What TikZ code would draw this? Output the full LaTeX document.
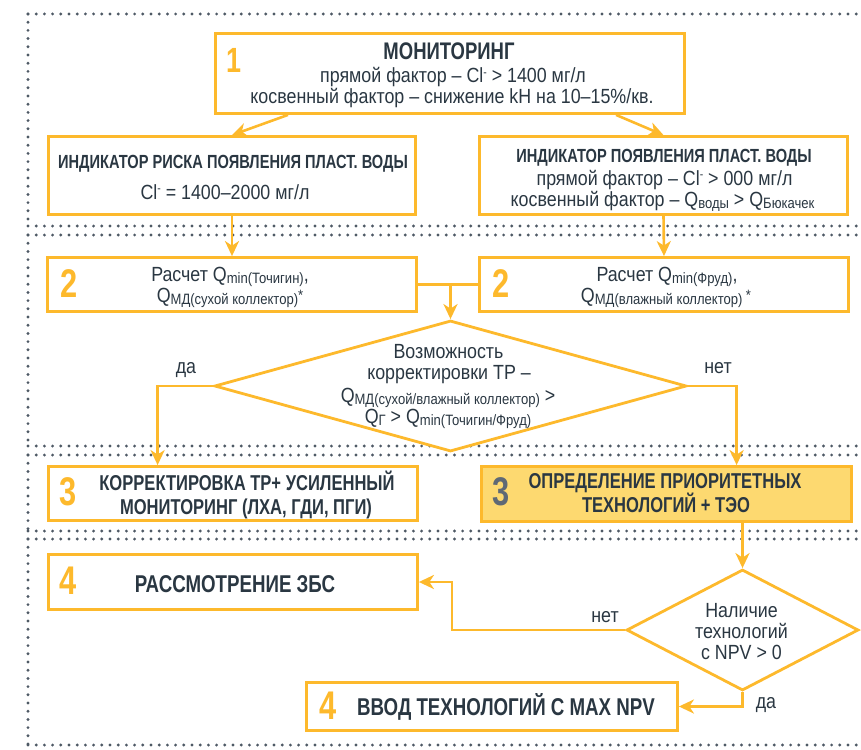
\documentclass[tikz,border=0pt]{standalone}
\usepackage{fontspec}
\setmainfont{Liberation Sans}
\newfontfamily\rg[FakeStretch=0.87]{Liberation Sans}
\newfontfamily\bdf[FakeStretch=0.77]{Liberation Sans}
\usetikzlibrary{arrows.meta,shapes.geometric,calc}
\definecolor{yel}{HTML}{FDB92C}
\definecolor{yfill}{HTML}{FDD970}
\definecolor{txt}{HTML}{2A3742}
\definecolor{dotc}{HTML}{4E5965}
\definecolor{gnum}{HTML}{5F6975}
\newcommand\sbs[1]{\raisebox{-2.5pt}{\fontsize{15}{15}\selectfont #1}}
\newcommand\supm{\raisebox{6.5pt}{\fontsize{12}{12}\selectfont -}}
\newcommand\sups[1]{\raisebox{2pt}{\fontsize{15}{15}\selectfont #1}}
\tikzset{
  dots/.style={draw=dotc, line width=3.2pt, line cap=round, dash pattern=on 0pt off 8.2pt},
  box/.style={draw=yel, line width=2.8pt, rectangle, inner sep=0pt, fill=white},
  dia/.style={draw=yel, line width=2.8pt, diamond, inner sep=0pt, fill=white},
  conn/.style={draw=yel, line width=2.6pt},
  arr/.style={conn, -{Stealth[length=15pt,width=14pt,inset=4.5pt]}},
  tr/.style={anchor=base, inner sep=0pt, text=txt, font=\rg\fontsize{20.5}{20.5}\selectfont},
  tb/.style={anchor=base, inner sep=0pt, text=txt, font=\bdf\bfseries\fontsize{#1}{#1}\selectfont},
  num/.style={anchor=base, inner sep=0pt, text=yel, font=\bdf\bfseries\fontsize{#1}{#1}\selectfont},
}
\begin{document}
\begin{tikzpicture}[x=1pt,y=-1pt]
\useasboundingbox (0,0) rectangle (861,749);
% dotted frame
\draw[dots] (28,14) -- (861,14);
\draw[dots] (28,226) -- (861,226);
\draw[dots] (28,235) -- (861,235);
\draw[dots] (28,446) -- (861,446);
\draw[dots] (28,455) -- (861,455);
\draw[dots] (28,531) -- (861,531);
\draw[dots] (28,539) -- (861,539);
\draw[dots] (28,745) -- (861,745);
\draw[dots] (28,14) -- (28,226);
\draw[dots] (28,235) -- (28,446);
\draw[dots] (28,455) -- (28,531);
\draw[dots] (28,539) -- (28,745);
% boxes
\node[box, minimum width=469pt, minimum height=80pt] (b1) at (450,73.5) {};
\node[box, minimum width=367pt, minimum height=78pt] (il) at (232,175.5) {};
\node[box, minimum width=368pt, minimum height=78pt] (ir) at (663.5,175.5) {};
\node[box, minimum width=369pt, minimum height=54pt] (b2l) at (232,284.5) {};
\node[box, minimum width=369pt, minimum height=54pt] (b2r) at (664,284.5) {};
\node[dia, minimum width=472pt, minimum height=131pt] (d1) at (450.5,386) {};
\node[box, minimum width=369pt, minimum height=54pt] (b3l) at (233,493.5) {};
\node[box, fill=yfill, minimum width=370pt, minimum height=55pt] (b3r) at (666.5,494) {};
\node[box, minimum width=369pt, minimum height=55pt] (b4l) at (233,582) {};
\node[dia, minimum width=232pt, minimum height=121pt] (d2) at (742.5,630) {};
\node[box, minimum width=371pt, minimum height=48pt] (b4b) at (492,706.5) {};
% connectors
\draw[arr] ($(b1.south)+(-162,0)$) -- (il.north);
\draw[arr] ($(b1.south)+(166,0)$) -- (ir.north);
\draw[arr] (il.south) -- (b2l.north);
\draw[arr] (ir.south) -- (b2r.north);
\draw[conn] (b2l.east) -- (b2r.west);
\coordinate (m) at (b2l.east -| d1.north);
\draw[arr] (m) -- (d1.north);
\draw[arr] (d1.west) -| ($(b3l.north west)+(110.5,0)$);
\draw[arr] (d1.east) -| ($(b3r.north west)+(256.5,0)$);
\coordinate (m2) at (b3r.south -| d2.north);
\draw[arr] (m2) -- (d2.north);
\coordinate (k) at ($(b4l.east)+(33,0)$);
\draw[arr] (d2.west) -| (k) -- (b4l.east);
\draw[arr] (d2.south) |- (b4b.east);
% numbers
\node[num=35] (n1) at (234,73) {1};
\node[num=40] (n2a) at (69,297) {2};
\node[num=40] (n2b) at (501,297) {2};
\node[num=40] (n3a) at (68,505) {3};
\node[num=40, text=gnum] (n3b) at (501,505) {3};
\node[num=40] (n4a) at (68,594) {4};
\node[num=40] (n4b) at (328,719) {4};
% texts
\node[tb=24] (t1a) at (449,60) {МОНИТОРИНГ};
\node[tr] (t1b) at (453,83) {прямой фактор – Cl\supm{} > 1400 мг/л};
\node[tr] (t1c) at (452,103) {косвенный фактор – снижение kH на 10–15\%/кв.};
\node[tb=19] (tila) at (233,168) {ИНДИКАТОР РИСКА ПОЯВЛЕНИЯ ПЛАСТ. ВОДЫ};
\node[tr] (tilb) at (225,199) {Cl\supm{} = 1400–2000 мг/л};
\node[tb=19] (tira) at (664,162) {ИНДИКАТОР ПОЯВЛЕНИЯ ПЛАСТ. ВОДЫ};
\node[tr] (tirb) at (664.5,185) {прямой фактор – Cl\supm{} > 000 мг/л};
\node[tr] (tirc) at (662.5,206) {косвенный фактор – Q\sbs{воды} > Q\sbs{Бюкачек}};
\node[tr] (t2la) at (230,281) {Расчет Q\sbs{min(Точигин)},};
\node[tr] (t2lb) at (230,302) {Q\sbs{МД(сухой коллектор)}\sups{*}};
\node[tr] (t2ra) at (667,281) {Расчет Q\sbs{min(Фруд)},};
\node[tr] (t2rb) at (666,302) {Q\sbs{МД(влажный коллектор)}\,\sups{*}};
\node[tr] (td1a) at (448.5,358) {Возможность};
\node[tr] (td1b) at (449,379) {корректировки ТР –};
\node[tr] (td1c) at (448,402) {Q\sbs{МД(сухой/влажный коллектор)} >};
\node[tr] (td1d) at (448,423) {Q\sbs{Г} > Q\sbs{min(Точигин/Фруд)}};
\node[tb=21.5] (t3la) at (247,490) {КОРРЕКТИРОВКА ТР+ УСИЛЕННЫЙ};
\node[tb=21.5] (t3lb) at (246,514) {МОНИТОРИНГ (ЛХА, ГДИ, ПГИ)};
\node[tb=21.5] (t3ra) at (665,488) {ОПРЕДЕЛЕНИЕ ПРИОРИТЕТНЫХ};
\node[tb=21.5] (t3rb) at (666,512) {ТЕХНОЛОГИЙ + ТЭО};
\node[tb=24.3] (t4l) at (235,592) {РАССМОТРЕНИЕ ЗБС};
\node[tb=24.3] (t4b) at (506,715) {ВВОД ТЕХНОЛОГИЙ С MAX NPV};
\node[tr] (td2a) at (741.5,617) {Наличие};
\node[tr] (td2b) at (741.5,638) {технологий};
\node[tr] (td2c) at (741.5,659) {с NPV > 0};
% labels
\node[tr] (l1) at (186,373) {да};
\node[tr] (l2) at (718,373) {нет};
\node[tr] (l3) at (605,622) {нет};
\node[tr] (l4) at (766,708) {да};
\end{tikzpicture}
\end{document}
